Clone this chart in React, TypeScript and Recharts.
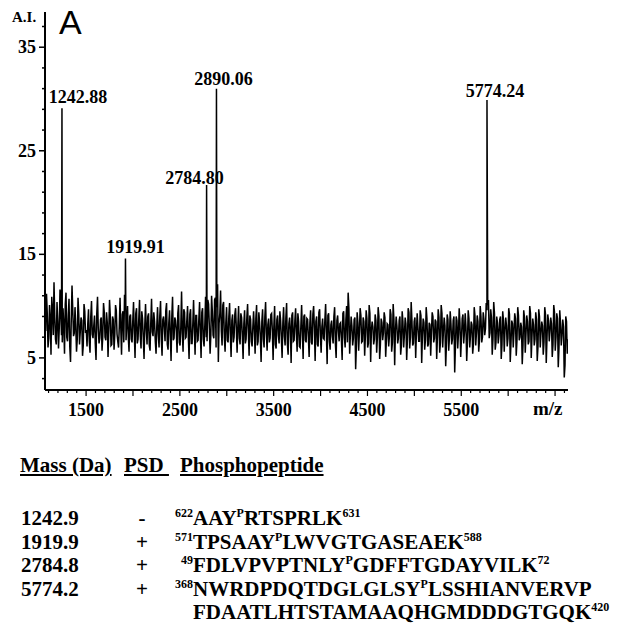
import React from 'react';
import { LineChart, Line, XAxis, YAxis, ReferenceDot } from 'recharts';

// MALDI spectrum, panel A. Baseline: one set every 16 m/z from 1062,
// a second set in between (from 1070) to give the dense noise band.
const noiseStart = 1062;
const noiseStep = 16;
const baseline = [
  8.4, 11.2, 6.0, 10.1, 5.3, 9.6, 12.3, 6.8, 10.4, 5.9,
  11.6, 7.2, 9.8, 5.4, 11.3, 6.6, 10.7, 4.6, 12.0, 7.1,
  9.9, 5.6, 10.8, 6.3, 8.9, 5.2, 10.2, 7.4, 6.1, 9.7,
  5.5, 10.5, 6.9, 9.1, 4.8, 10.9, 6.4, 8.7, 5.7, 10.3,
  7.0, 9.4, 5.1, 10.6, 6.2, 9.0, 5.8, 10.1, 7.3, 6.0,
  10.8, 5.3, 9.5, 11.1, 6.7, 10.0, 5.6, 9.2, 6.5, 10.4,
  5.0, 9.8, 6.8, 10.6, 5.9, 8.8, 4.9, 10.2, 6.3, 9.3,
  5.7, 10.7, 7.1, 8.5, 5.4, 9.9, 6.0, 10.5, 5.2, 9.0,
  6.6, 10.3, 5.8, 9.6, 4.7, 10.9, 6.9, 8.6, 5.5, 10.1,
  6.2, 11.4, 5.6, 9.4, 7.0, 10.0, 4.9, 9.7, 6.4, 10.6,
  5.3, 9.1, 6.7, 10.4, 5.0, 9.8, 6.1, 10.9, 6.6, 10.2,
  5.4, 11.0, 7.2, 10.6, 6.0, 12.1, 8.3, 11.5, 6.2, 10.4,
  5.6, 9.9, 6.5, 10.3, 5.1, 9.2, 7.0, 9.8, 5.5, 10.0,
  6.3, 8.9, 4.9, 9.6, 6.8, 10.2, 5.2, 8.7, 6.1, 9.5,
  5.4, 10.1, 6.6, 8.4, 4.6, 9.7, 6.0, 10.4, 5.7, 8.8,
  6.9, 9.3, 4.8, 10.0, 5.9, 9.1, 6.4, 8.6, 5.0, 9.9,
  6.2, 10.3, 5.3, 8.9, 4.5, 9.4, 6.7, 9.8, 5.6, 8.5,
  6.0, 10.1, 4.9, 9.2, 6.5, 8.7, 5.1, 9.6, 6.3, 10.0,
  4.7, 9.0, 6.1, 9.7, 5.5, 8.8, 6.8, 10.2, 4.4, 9.3,
  5.8, 8.6, 6.4, 9.9, 5.0, 9.1, 6.6, 8.4, 4.8, 9.5,
  6.0, 10.0, 11.3, 5.4, 9.0, 6.2, 8.7, 3.9, 9.4, 5.7,
  9.8, 6.5, 8.9, 5.2, 9.6, 6.0, 10.1, 4.6, 8.5, 6.3,
  9.2, 5.5, 9.9, 4.9, 8.8, 6.7, 9.4, 5.1, 8.3, 6.1,
  9.7, 5.6, 10.2, 4.3, 9.0, 6.4, 8.6, 5.3, 9.5, 6.0,
  8.9, 4.8, 9.8, 5.9, 10.4, 6.2, 8.5, 5.0, 9.3, 6.6,
  9.6, 4.5, 8.8, 5.8, 9.9, 6.1, 8.4, 5.2, 9.4, 6.5,
  8.7, 4.9, 9.7, 5.5, 10.1, 6.0, 8.9, 4.2, 9.2, 5.7,
  9.5, 6.3, 8.6, 3.6, 9.0, 5.9, 9.8, 5.1, 8.8, 6.4,
  9.3, 4.7, 9.6, 6.0, 8.5, 5.4, 9.9, 6.2, 9.1, 5.6,
  10.0, 6.5, 9.4, 7.2, 10.3, 10.1, 6.9, 9.7, 5.3, 10.4,
  5.8, 9.0, 6.4, 8.7, 4.9, 9.5, 5.6, 8.9, 6.1, 9.8,
  4.6, 8.6, 6.0, 9.3, 5.2, 9.9, 6.7, 8.4, 4.4, 9.6,
  5.5, 9.1, 6.3, 10.0, 5.0, 8.8, 6.2, 9.4, 4.7, 9.7,
  6.0, 8.5, 5.3, 9.9, 4.5, 9.2, 6.6, 8.9, 5.1, 10.1,
  5.7, 9.3, 4.1, 9.6, 6.2, 8.7, 3.1, 9.0, 5.4,
];
const midStart = 1070;
const baselineMid = [
  7.6, 9.3, 6.9, 8.8, 10.9, 7.2, 9.0, 6.3, 8.5, 7.9,
  9.4, 6.5, 8.2, 10.2, 7.0, 9.1, 6.1, 8.7, 9.6, 7.4,
  8.0, 6.8, 9.2, 7.5, 8.6, 6.2, 9.5, 7.7, 8.3, 6.6,
  9.0, 7.3, 8.1, 6.4, 9.3, 7.8, 6.9, 8.9, 7.1, 9.4,
  6.7, 8.4, 7.6, 9.1, 6.3, 8.7, 7.2, 9.6, 6.6, 8.0,
  7.9, 9.2, 6.5, 10.5, 8.3, 7.0, 9.0, 6.8, 8.6, 7.4,
  9.3, 6.4, 8.8, 7.1, 9.5, 6.9, 8.2, 7.7, 9.0, 6.2,
  8.5, 7.5, 9.4, 6.6, 8.1, 7.3, 9.1, 6.8, 8.7, 7.9,
  9.6, 6.3, 8.4, 7.2, 9.0, 6.7, 8.9, 7.6, 9.3, 6.5,
  8.0, 7.4, 9.7, 6.9, 8.6, 7.1, 9.2, 6.4, 8.3, 7.8,
  9.1, 6.6, 8.7, 7.5, 9.4, 6.8, 8.2, 7.0, 10.6, 8.1,
  7.2, 9.5, 6.9, 10.8, 9.9, 4.6, 9.3, 7.6, 10.1, 7.0,
  8.4, 6.7, 9.0, 7.3, 8.6, 6.5, 9.2, 7.8, 8.1, 6.9,
  9.3, 7.1, 8.3, 6.4, 8.9, 7.5, 9.1, 6.6, 8.0, 7.7,
  8.8, 6.2, 9.4, 7.0, 8.5, 6.8, 9.0, 7.4, 8.2, 6.5,
  9.2, 7.6, 8.0, 6.3, 8.7, 7.2, 9.5, 6.9, 8.4, 7.1,
  8.9, 6.4, 8.3, 7.7, 9.1, 6.6, 8.6, 7.3, 9.3, 6.1,
  8.1, 7.5, 9.0, 6.7, 8.8, 7.0, 8.4, 6.5, 9.2, 7.8,
  8.5, 6.3, 9.4, 7.2, 8.0, 6.9, 8.7, 7.4, 9.1, 6.6,
  8.2, 7.1, 9.0, 6.4, 8.6, 7.6, 8.3, 6.8, 9.3, 7.0,
  8.7, 6.5, 9.8, 7.3, 8.1, 6.9, 8.9, 6.2, 8.4, 7.5,
  9.1, 6.6, 8.5, 7.2, 8.8, 6.4, 9.3, 7.7, 8.0, 6.8,
  8.6, 7.0, 9.0, 6.3, 8.4, 7.4, 8.9, 6.7, 8.2, 7.1,
  9.2, 6.5, 8.7, 7.6, 8.1, 6.9, 9.0, 6.2, 8.5, 7.3,
  8.3, 6.8, 9.4, 7.0, 8.6, 6.4, 8.9, 7.5, 8.0, 6.6,
  9.1, 7.2, 8.4, 6.7, 8.8, 6.3, 8.2, 7.4, 9.0, 6.9,
  8.5, 7.1, 8.9, 6.5, 9.3, 7.6, 8.1, 6.4, 8.7, 7.0,
  8.3, 6.8, 9.0, 6.2, 8.6, 7.3, 8.4, 6.9, 9.2, 7.5,
  8.0, 6.6, 8.8, 7.1, 8.2, 6.4, 9.1, 7.4, 8.5, 6.7,
  9.0, 7.0, 8.7, 7.8, 9.6, 10.6, 7.4, 8.9, 6.8, 9.3,
  6.5, 8.4, 7.2, 9.0, 6.3, 8.6, 7.7, 8.1, 6.9, 9.2,
  6.4, 8.3, 7.5, 8.8, 6.7, 9.1, 7.0, 8.0, 6.2, 8.9,
  7.3, 8.5, 6.6, 9.3, 7.1, 8.2, 6.8, 8.7, 6.1, 9.0,
  7.4, 8.1, 6.5, 9.2, 6.9, 8.6, 7.6, 8.3, 6.3, 9.4,
  7.0, 8.8, 6.0, 8.4, 7.2, 8.0, 4.3, 8.5, 6.8,
];

const peakMz = [1242.88, 1919.91, 2784.8, 2890.06, 5774.24];
const peakAI = [29.1, 14.6, 21.7, 31.0, 29.9];
const peakLabels = ['1242.88', '1919.91', '2784.80', '2890.06', '5774.24'];

const yTicks = [3, 5, 7, 9, 11, 13, 15, 17, 19, 21, 23, 25, 27, 29, 31, 33, 35, 37];
const yTickLabels = [5, 15, 25, 35];
const xTickLabels = [1500, 2500, 3500, 4500, 5500];

const tableMass = ['1242.9', '1919.9', '2784.8', '5774.2'];
const tablePsd = ['-', '+', '+', '+'];
const tableStart = ['622', '571', '49', '368'];
const tableEnd = ['631', '588', '72', ''];
const tableBefore = ['AAY', 'TPSAAY', 'FDLVPVPTNLY', 'NWRDPDQTDGLGLSY'];
const tableAfter = ['RTSPRLK', 'LWVGTGASEAEK', 'GDFFTGDAYVILK', 'LSSHIANVERVP'];
const tableWrap = 'FDAATLHTSTAMAAQHGMDDDGTGQK';
const tableWrapEnd = '420';

const spectrum = [
  ...baseline.map((ai, i) => ({ mz: noiseStart + i * noiseStep, ai })),
  ...baselineMid.map((ai, i) => ({ mz: midStart + i * noiseStep, ai })),
  ...peakMz.map((mz, i) => ({ mz, ai: peakAI[i] })),
].sort((a, b) => a.mz - b.mz);

const xTicks = Array.from({ length: 56 }, (_, i) => 1100 + i * 100);

// label offsets from each peak top, px
const labelShift = [
  [16, -11],
  [10, -11],
  [-12, -7],
  [7, -10],
  [8, -9],
];

const serif = "'Liberation Serif', 'Times New Roman', serif";

const YTick = (props: any) => {
  const { x, y, payload } = props;
  const major = yTickLabels.includes(payload.value);
  return (
    <g>
      <line x1={x - (major ? 6 : 3)} x2={x} y1={y} y2={y} stroke="#000" strokeWidth={1.5} />
      {major && (
        <text x={x - 9} y={y} textAnchor="end" dominantBaseline="central" fontFamily={serif} fontWeight="bold" fontSize={18} fill="#000">
          {payload.value}
        </text>
      )}
    </g>
  );
};

const XTick = (props: any) => {
  const { x, y, payload } = props;
  const major = payload.value % 500 === 0;
  const labelled = xTickLabels.includes(payload.value);
  return (
    <g>
      <line x1={x} x2={x} y1={y} y2={y + (major ? 6 : 3)} stroke="#000" strokeWidth={1.2} />
      {labelled && (
        <text x={x} y={y + 20} textAnchor="middle" dominantBaseline="central" fontFamily={serif} fontWeight="bold" fontSize={18} fill="#000">
          {payload.value}
        </text>
      )}
    </g>
  );
};

const sup: React.CSSProperties = { fontSize: 12, verticalAlign: 'top', lineHeight: '14px' };

export default function App() {
  return (
    <div style={{ position: 'absolute', left: 0, top: 0, width: 628, height: 631, background: '#fff', fontFamily: serif }}>
      <LineChart width={628} height={440} data={spectrum} margin={{ top: 12, right: 60, bottom: 10, left: 0 }}>
        <XAxis
          type="number"
          dataKey="mz"
          domain={[1062, 6638]}
          allowDataOverflow
          ticks={xTicks}
          interval={0}
          tickSize={0}
          tickMargin={0}
          height={40}
          axisLine={{ stroke: '#000', strokeWidth: 2 }}
          tick={<XTick />}
        />
        <YAxis
          type="number"
          domain={[1.9, 38.4]}
          allowDataOverflow
          ticks={yTicks}
          interval={0}
          tickSize={0}
          tickMargin={0}
          width={45}
          axisLine={{ stroke: '#000', strokeWidth: 2 }}
          tick={<YTick />}
        />
        <Line type="linear" dataKey="ai" stroke="#000" strokeWidth={1.5} dot={false} isAnimationActive={false} />
        {peakMz.map((mz, i) => (
          <ReferenceDot
            key={mz}
            x={mz}
            y={peakAI[i]}
            r={0}
            shape={(p: any) => (
              <text
                x={p.cx + labelShift[i][0]}
                y={p.cy + labelShift[i][1]}
                textAnchor="middle"
                dominantBaseline="central"
                fontFamily={serif}
                fontWeight="bold"
                fontSize={18}
                fill="#000"
              >
                {peakLabels[i]}
              </text>
            )}
          />
        ))}
      </LineChart>

      <div style={{ position: 'absolute', left: 12, top: 9, fontSize: 15, fontWeight: 'bold' }}>A.I.</div>
      <div style={{ position: 'absolute', left: 59, top: 3, fontSize: 34, fontFamily: "'Liberation Sans', Arial, sans-serif" }}>A</div>
      <div style={{ position: 'absolute', left: 533, top: 398, fontSize: 19, fontWeight: 'bold' }}>m/z</div>

      <div style={{ position: 'absolute', left: 0, top: 0, fontSize: 21, fontWeight: 'bold', lineHeight: '24px' }}>
        <div style={{ position: 'absolute', left: 20, top: 453, whiteSpace: 'nowrap', textDecoration: 'underline' }}>Mass (Da)</div>
        <div style={{ position: 'absolute', left: 124, top: 453, whiteSpace: 'pre', textDecoration: 'underline' }}>{'PSD '}</div>
        <div style={{ position: 'absolute', left: 180, top: 453, whiteSpace: 'nowrap', textDecoration: 'underline' }}>Phosphopeptide</div>
        {tableMass.map((m, i) => (
          <React.Fragment key={m}>
            <div style={{ position: 'absolute', left: 21, top: 506 + i * 23.5, whiteSpace: 'nowrap' }}>{m}</div>
            <div style={{ position: 'absolute', left: 132, width: 20, textAlign: 'center', top: 506 + i * 23.5 }}>{tablePsd[i]}</div>
            <div style={{ position: 'absolute', left: i === 2 ? 181 : 175, top: 506 + i * 23.5, whiteSpace: 'nowrap' }}>
              <span style={sup}>{tableStart[i]}</span>
              {tableBefore[i]}
              <span style={sup}>P</span>
              {tableAfter[i]}
              {tableEnd[i] && <span style={sup}>{tableEnd[i]}</span>}
            </div>
          </React.Fragment>
        ))}
        <div style={{ position: 'absolute', left: 193, top: 600, whiteSpace: 'nowrap' }}>
          {tableWrap}
          <span style={sup}>{tableWrapEnd}</span>
        </div>
      </div>
    </div>
  );
}
